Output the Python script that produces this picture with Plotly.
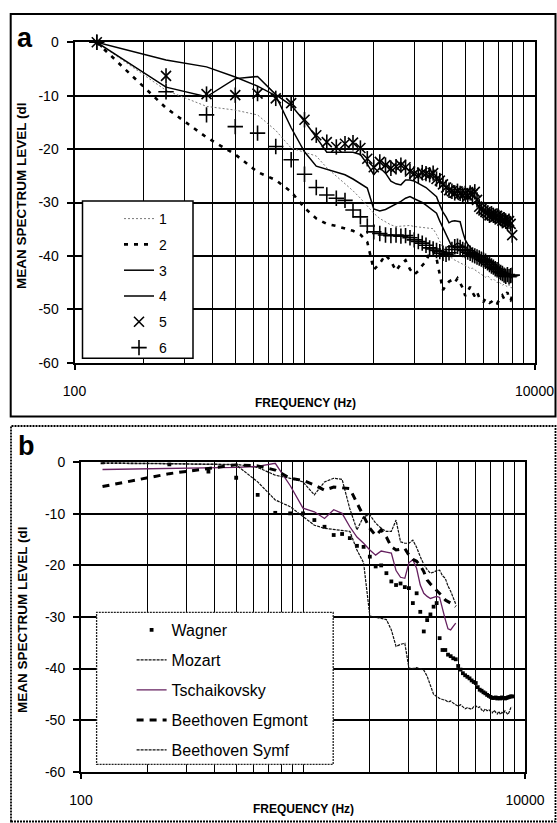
import plotly.graph_objects as go

W, H = 557, 823
FONT = "Arial, Liberation Sans, sans-serif"


def px(x):
    return x / W


def py(y):
    return 1 - y / H


# ---------------- data ----------------
FREQ = [125, 250, 375, 500, 625, 750, 875, 1000, 1125, 1250,
        1375, 1500, 1625, 1750, 1875, 2000, 2125, 2250, 2375, 2500,
        2625, 2750, 2875, 3000, 3125, 3250, 3375, 3500, 3625, 3750,
        3875, 4000, 4125, 4250, 4375, 4500, 4625, 4750, 4875, 5000,
        5125, 5250, 5375, 5500, 5625, 5750, 5875, 6000, 6125, 6250,
        6375, 6500, 6625, 6750, 6875, 7000, 7125, 7250, 7375, 7500,
        7625, 7750, 7875, 8000, 8125, 8250, 8375, 8500, 8625, 8750]

Y_TICKS = [0, -10, -20, -30, -40, -50, -60]
X_LABELS = [100, 10000]
X_GRID = [200, 300, 400, 500, 600, 700, 800, 900, 1000,
          2000, 3000, 4000, 5000, 6000, 7000, 8000, 9000]

# panel a
A_NAMES = ["1", "2", "3", "4", "5", "6"]
S1 = [0, -9.0, -12.0, -12.7, -13.6, -16.5, -19.8, -20.6, -21.3, -23.5,
      -25.0, -26.5, -27.8, -29.2, -30.6, -32.0, -33.0, -33.6, -34.2, -34.5,
      -34.4, -34.3, -34.3, -34.5, -34.6, -34.7, -34.7, -34.8, -34.9, -36.0,
      -37.4, -38.5, -39.3, -39.8, -40.5, -40.8, -41.0, -41.3, -41.5, -41.8,
      -42.0, -42.4, -42.3, -42.6, -43.0, -43.2, -43.5, -43.8, -44.0, -43.7,
      -44.2, -44.5, -44.3, -44.7, -45.0, -44.8, -45.2, -45.5, -45.3, -45.6,
      -45.8, -45.4, -45.9, -46.0]
S2 = [0, -12.3, -17.8, -21.0, -24.3, -25.8, -28.0, -31.0, -33.0, -34.0,
      -34.4, -34.8, -35.3, -36.0, -37.4, -42.6, -41.4, -39.8, -41.0, -42.8,
      -41.5, -40.8, -42.5, -43.5, -42.8, -41.8, -41.0, -39.5, -39.0, -40.5,
      -43.5, -46.4, -45.5, -44.8, -44.5, -45.0, -44.2, -45.0, -46.0, -47.5,
      -46.5, -45.8, -46.8, -47.6, -46.8, -47.8, -48.4, -48.6, -48.0, -48.5,
      -48.8, -48.6, -48.2, -48.7, -48.9, -48.4, -47.8, -47.4, -48.0, -47.2,
      -46.8, -48.0, -48.3, -47.5]
S3 = [0, -3.3, -4.6, -6.5, -8.2, -10.0, -16.0, -20.5, -23.2, -23.8,
      -24.3, -24.8, -25.6, -26.4, -27.3, -31.2, -31.6, -31.3, -30.8, -30.2,
      -29.8, -29.2, -28.9, -29.3, -29.6, -30.0, -30.5, -31.0, -31.5, -32.0,
      -33.5, -34.8, -35.8, -37.2, -38.3, -38.0, -37.6, -37.8, -38.2, -38.6,
      -39.0, -39.3, -39.6, -39.9, -40.2, -40.5, -40.7, -40.9, -41.2, -41.5,
      -41.7, -42.0, -42.2, -42.4, -42.6, -42.8, -43.0, -43.2, -43.4, -43.5,
      -43.7, -43.8, -44.0, -44.1]
S4 = [0, -8.4, -10.2, -6.8, -6.4, -9.8, -11.8, -14.8, -17.8, -20.6,
      -20.6, -20.6, -20.6, -21.0, -22.8, -24.8, -23.5, -24.5, -26.0, -26.5,
      -26.7, -25.8, -25.8, -26.0, -26.4, -26.8, -27.2, -27.8, -28.3, -28.9,
      -30.5, -31.8, -32.7, -33.8, -33.5, -33.4, -33.5, -33.6, -35.5, -37.0,
      -37.8, -38.4, -38.9, -39.2, -39.5, -39.8, -40.0, -40.2, -40.4, -40.6,
      -40.8, -41.2, -41.5, -41.8, -42.0, -42.3, -42.6, -42.8, -43.0, -43.2,
      -43.3, -43.5, -43.6, -43.8]
S5 = [0, -6.3, -9.7, -9.9, -9.6, -10.5, -11.4, -14.5, -17.4, -18.7,
      -19.6, -19.0, -18.8, -19.8, -21.8, -23.4, -22.4, -23.0, -23.6, -23.3,
      -23.0, -23.4, -24.2, -24.6, -24.9, -24.4, -24.6, -24.8, -24.5, -25.6,
      -25.9, -26.6, -27.2, -27.7, -27.9, -28.2, -27.9, -28.3, -28.6, -28.3,
      -28.7, -28.2, -28.5, -28.0, -29.5, -30.8, -31.2, -31.5, -31.8, -32.0,
      -32.4, -32.1, -32.4, -32.7, -32.5, -32.8, -33.0, -33.4, -33.2, -33.5,
      -33.8, -33.5, -34.0, -36.1]
S6 = [0, -9.25, -13.6, -15.8, -17.0, -19.5, -22.0, -24.7, -27.2, -28.6,
      -29.2, -29.6, -31.4, -32.7, -34.4, -35.5, -35.8, -36.1, -36.2, -36.1,
      -36.3, -36.2, -36.6, -37.0, -37.3, -37.6, -38.0, -38.5, -38.7, -39.0,
      -39.2, -39.5, -39.7, -39.4, -38.8, -38.3, -38.2, -38.4, -38.8, -39.0,
      -39.3, -39.5, -39.8, -40.0, -40.2, -40.4, -40.6, -40.8, -41.0, -41.3,
      -41.6, -41.9, -42.1, -42.4, -42.6, -42.9, -43.1, -43.3, -43.6, -43.8,
      -43.5, -43.9, -43.7, -43.6]

# panel b
B_NAMES = ["Wagner", "Mozart", "Tschaikovsky", "Beethoven Egmont", "Beethoven Symf"]
WAGNER = [0, -0.4, -1.8, -3.0, -6.3, -9.8, -9.9, -9.9, -11.2, -12.5,
          -14.1, -13.9, -14.7, -16.2, -16.4, -18.3, -20.2, -20.0, -21.5, -23.1,
          -23.8, -23.5, -24.2, -24.4, -27.3, -25.4, -29.0, -32.8, -30.6, -29.5,
          -28.0, -27.3, -34.1, -36.4, -36.4, -37.3, -37.6, -38.0, -38.2, -39.5,
          -40.2, -40.9, -41.3, -41.6, -41.9, -42.3, -42.6, -42.8, -43.6, -44.1,
          -44.3, -44.6, -44.8, -45.1, -45.3, -45.5, -45.7, -45.7, -45.6, -45.8,
          -45.7, -45.8, -45.6, -45.7, -45.8, -45.7, -45.6, -45.5, -45.4, -45.4]
MOZART = [-0.2, -0.3, -0.3, -0.4, -1.0, -2.5, -3.1, -3.8, -6.3, -3.8,
          -3.1, -3.3, -9.0, -13.1, -10.5, -10.2, -11.8, -12.8, -13.4, -13.4,
          -11.2, -15.4, -15.7, -15.7, -15.1, -16.5, -18.3, -19.8, -20.8, -21.5,
          -21.3, -21.0, -20.9, -22.0, -22.5, -24.0, -25.0, -26.5, -27.5]
TSCHAIK = [-1.4, -1.2, -1.1, -1.0, -0.8, -0.2, -4.5, -8.9, -9.6, -10.9,
           -9.2, -9.9, -12.5, -14.5, -15.7, -17.0, -18.0, -17.2, -17.4, -17.6,
           -21.0, -22.3, -22.5, -19.5, -18.9, -20.6, -23.8, -25.4, -26.0, -26.4,
           -26.2, -26.0, -26.2, -28.6, -30.5, -32.3, -32.5, -31.8, -31.2]
EGMONT = [-4.7, -2.2, -1.2, -0.5, -0.7, -1.5, -3.1, -3.5, -4.4, -5.4,
          -4.8, -4.9, -5.1, -7.9, -10.5, -12.8, -14.2, -13.1, -14.5, -16.4,
          -17.0, -16.9, -16.7, -18.0, -18.8, -19.2, -20.0, -21.2, -22.8, -23.6,
          -24.2, -24.7, -25.4, -26.0, -26.7, -27.0, -27.2, -27.6, -28.0]
SYMF = [0, -0.2, -0.3, -0.5, -3.8, -7.3, -8.6, -10.5, -12.2, -12.8,
        -13.0, -13.2, -13.4, -17.0, -19.5, -29.8, -30.0, -30.2, -30.5, -32.5,
        -35.7, -35.3, -35.1, -39.9, -40.0, -39.8, -40.0, -40.3, -41.5, -43.5,
        -45.0, -45.4, -45.8, -46.0, -46.1, -46.5, -46.3, -46.7, -47.0, -47.3,
        -47.0, -47.4, -47.8, -47.6, -47.7, -47.9, -47.4, -47.2, -47.6, -47.4,
        -48.0, -48.3, -47.8, -48.2, -48.0, -48.4, -48.6, -48.1, -48.5, -48.8,
        -48.3, -48.9, -48.5, -48.7, -48.2, -48.6, -48.9, -48.4, -47.6, -47.4]

# ---------------- figure ----------------
fig = go.Figure()


def fx(vals):
    return FREQ[:len(vals)]


A = dict(xaxis="x", yaxis="y", legend="legend")
B = dict(xaxis="x2", yaxis="y2", legend="legend2")

fig.add_trace(go.Scatter(x=fx(S1), y=S1, mode="lines", name=A_NAMES[0], legendgroup="a1",
                         line=dict(color="#7a7a7a", width=1, dash="2px,2px"), **A))
fig.add_trace(go.Scatter(x=fx(S2), y=S2, mode="lines", name=A_NAMES[1], legendgroup="a2",
                         line=dict(color="black", width=2.6, dash="4px,6px"), **A))
fig.add_trace(go.Scatter(x=fx(S3), y=S3, mode="lines", name=A_NAMES[2], legendgroup="a3",
                         line=dict(color="black", width=1.5), **A))
fig.add_trace(go.Scatter(x=fx(S4), y=S4, mode="lines", name=A_NAMES[3], legendgroup="a4",
                         line=dict(color="black", width=1.5), **A))
fig.add_trace(go.Scatter(x=fx(S5), y=S5, mode="markers", name=A_NAMES[4], legendgroup="a5",
                         cliponaxis=False,
                         marker=dict(symbol="x-thin", size=10, color="black",
                                     line=dict(color="black", width=1.6)), **A))
fig.add_trace(go.Scatter(x=fx(S5), y=S5, mode="markers", name=A_NAMES[4], legendgroup="a5",
                         showlegend=False, cliponaxis=False,
                         marker=dict(symbol="line-ns", size=11, color="black",
                                     line=dict(color="black", width=1.6)), **A))
fig.add_trace(go.Scatter(x=fx(S6), y=S6, mode="markers", name=A_NAMES[5], legendgroup="a6",
                         cliponaxis=False,
                         marker=dict(symbol="cross-thin", size=11, color="black",
                                     line=dict(color="black", width=1.6)), **A))

fig.add_trace(go.Scatter(x=fx(WAGNER), y=WAGNER, mode="markers", name=B_NAMES[0], legendgroup="b1",
                         marker=dict(symbol="square", size=3.8, color="black"), **B))
fig.add_trace(go.Scatter(x=fx(MOZART), y=MOZART, mode="lines", name=B_NAMES[1], legendgroup="b2",
                         line=dict(color="#111", width=1.2, dash="3px,1px"), **B))
fig.add_trace(go.Scatter(x=fx(TSCHAIK), y=TSCHAIK, mode="lines", name=B_NAMES[2], legendgroup="b3",
                         line=dict(color="#65205f", width=1.3), **B))
fig.add_trace(go.Scatter(x=fx(EGMONT), y=EGMONT, mode="lines", name=B_NAMES[3], legendgroup="b4",
                         line=dict(color="black", width=3, dash="7px,6px"), **B))
fig.add_trace(go.Scatter(x=fx(SYMF), y=SYMF, mode="lines", name=B_NAMES[4], legendgroup="b5",
                         line=dict(color="#111", width=1.2, dash="3px,1px"), **B))


def xax(domain, anchor):
    return dict(type="log", range=[2, 4], domain=domain, anchor=anchor,
                tickmode="array", tickvals=X_LABELS, ticktext=[str(v) for v in X_LABELS],
                ticks="outside", ticklen=5, tickwidth=1.5, tickcolor="black",
                showgrid=False, zeroline=False,
                showline=True, mirror=True, linewidth=2, linecolor="black",
                minor=dict(tickmode="array", tickvals=X_GRID, showgrid=True,
                           gridcolor="black", gridwidth=1.2, ticks=""),
                tickfont=dict(size=14, family=FONT, color="black"),
                ticklabelstandoff=9, automargin=False)


def yax(domain, anchor):
    return dict(range=[-60, 0], domain=domain, anchor=anchor,
                tickmode="array", tickvals=Y_TICKS, ticktext=[str(v) for v in Y_TICKS],
                ticks="outside", ticklen=6, tickwidth=1.5, tickcolor="black",
                showgrid=True, gridcolor="black", gridwidth=1.8, zeroline=False,
                showline=True, mirror=True, linewidth=2, linecolor="black",
                tickfont=dict(size=14, family=FONT, color="black"),
                ticklabelstandoff=5, automargin=False)


shapes = [
    dict(type="rect", xref="paper", yref="paper", x0=px(10.7), x1=px(555.5), y0=py(416.5), y1=py(14),
         line=dict(color="black", width=2), fillcolor="rgba(0,0,0,0)", layer="above"),
    dict(type="rect", xref="paper", yref="paper", x0=px(11), x1=px(555.5), y0=py(821.5), y1=py(426),
         line=dict(color="black", width=1.8, dash="2px,1px"), fillcolor="rgba(0,0,0,0)", layer="above"),
    dict(type="rect", xref="paper", yref="paper", x0=px(82.5), x1=px(193), y0=py(358.3), y1=py(201),
         line=dict(color="black", width=1.5), fillcolor="white", layer="above"),
    dict(type="rect", xref="paper", yref="paper", x0=px(96.6), x1=px(333.2), y0=py(764.3), y1=py(612.3),
         line=dict(color="#222", width=1.3, dash="2px,1px"), fillcolor="white", layer="above"),
]


def ann(text, x, y, size, angle=0):
    return dict(text=text, x=px(x), y=py(y), xref="paper", yref="paper", showarrow=False,
                xanchor="center", yanchor="middle", textangle=angle,
                font=dict(size=size, family=FONT, color="black"))


annotations = [
    ann("<b>a</b>", 25, 38, 27),
    ann("<b>b</b>", 26, 446, 27),
    ann("<b>MEAN SPECTRUM LEVEL (dl</b>", 22, 196, 13.5, -90),
    ann("<b>MEAN SPECTRUM LEVEL (dl</b>", 22, 620, 13.5, -90),
    ann("<b>FREQUENCY (Hz)</b>", 305, 403, 12),
    ann("<b>FREQUENCY (Hz)</b>", 303, 809, 12),
]

fig.update_layout(
    width=W, height=H, margin=dict(l=0, r=0, t=0, b=0),
    paper_bgcolor="white", plot_bgcolor="white",
    font=dict(family=FONT, color="black"),
    xaxis=xax([px(74.5), px(534.5)], "y"),
    yaxis=yax([py(362.7), py(42.3)], "x"),
    xaxis2=xax([px(81), px(525)], "y2"),
    yaxis2=yax([py(771.7), py(462.3)], "x2"),
    shapes=shapes,
    annotations=annotations,
    legend=dict(x=px(119), y=py(203), xanchor="left", yanchor="top",
                bgcolor="rgba(0,0,0,0)", borderwidth=0, traceorder="grouped",
                tracegroupgap=4.6, font=dict(size=14, family=FONT, color="black")),
    legend2=dict(x=px(131.6), y=py(613), xanchor="left", yanchor="top",
                 bgcolor="rgba(0,0,0,0)", borderwidth=0, traceorder="grouped",
                 tracegroupgap=6.2, font=dict(size=16, family=FONT, color="black")),
)

fig.write_html("out.html")
